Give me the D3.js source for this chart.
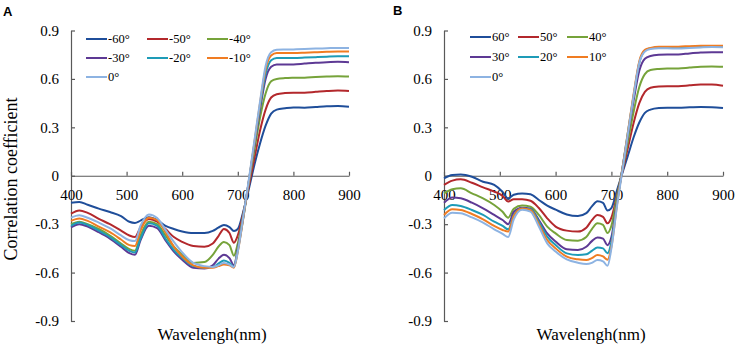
<!DOCTYPE html>
<html>
<head>
<meta charset="utf-8">
<script src="https://cdnjs.cloudflare.com/ajax/libs/d3/7.8.5/d3.min.js"></script>
<style>
body{margin:0;background:#fff;}
#wrapper svg{display:block;}
</style>
</head>
<body>
<div id="wrapper"></div>
<script>
// Data
const wavelengths = [400,415,430,450,470,490, 505,515,525,540,555,570,585,600, 620,640,655,665,675,685,693,700, 710,720,730,740,750,760,770, 785,800,820,840,860,880,900];
const xTicks = [400,500,600,700,800,900];
const yTicks = [-0.9,-0.6,-0.3,0,0.3,0.6,0.9];
const anglesA = ['-60°','-50°','-40°','-30°','-20°','-10°','0°'];
const anglesB = ['60°','50°','40°','30°','20°','10°','0°'];

// panel A
const a_m60 = [-0.167,-0.163,-0.18,-0.204,-0.225,-0.25, -0.285,-0.292,-0.278,-0.257,-0.275,-0.31,-0.33,-0.345, -0.355,-0.355,-0.342,-0.322,-0.305,-0.318,-0.343,-0.33, -0.22,-0.08,0.07,0.20,0.31,0.385,0.41, 0.418,0.423,0.422,0.426,0.43,0.432,0.428];
const a_m50 = [-0.235,-0.215,-0.23,-0.267,-0.30,-0.34, -0.37,-0.38,-0.32,-0.268,-0.285,-0.33,-0.38,-0.41, -0.435,-0.44,-0.42,-0.375,-0.33,-0.355,-0.415,-0.37, -0.23,-0.06,0.11,0.28,0.41,0.485,0.505, 0.512,0.515,0.515,0.52,0.525,0.528,0.525];
const a_m40 = [-0.30,-0.285,-0.30,-0.33,-0.37,-0.42, -0.455,-0.465,-0.37,-0.285,-0.30,-0.37,-0.44,-0.49, -0.54,-0.535,-0.49,-0.44,-0.41,-0.43,-0.495,-0.42, -0.24,-0.04,0.16,0.36,0.51,0.585,0.60, 0.605,0.607,0.608,0.612,0.615,0.617,0.615];
const a_m30 = [-0.32,-0.30,-0.315,-0.35,-0.39,-0.44, -0.48,-0.49,-0.40,-0.31,-0.325,-0.40,-0.47,-0.52, -0.57,-0.575,-0.555,-0.515,-0.49,-0.51,-0.555,-0.45, -0.25,-0.03,0.19,0.41,0.60,0.675,0.69, 0.69,0.69,0.695,0.70,0.703,0.706,0.703];
const a_m20 = [-0.31,-0.29,-0.305,-0.34,-0.38,-0.43, -0.465,-0.475,-0.39,-0.295,-0.31,-0.39,-0.46,-0.51, -0.56,-0.57,-0.565,-0.545,-0.525,-0.54,-0.565,-0.46, -0.26,-0.03,0.20,0.43,0.63,0.715,0.73, 0.73,0.73,0.732,0.735,0.738,0.74,0.74];
const a_m10 = [-0.28,-0.265,-0.28,-0.315,-0.35,-0.395, -0.43,-0.435,-0.34,-0.26,-0.275,-0.35,-0.44,-0.50, -0.555,-0.57,-0.57,-0.56,-0.55,-0.555,-0.57,-0.47, -0.26,-0.03,0.21,0.45,0.66,0.745,0.76, 0.76,0.76,0.762,0.765,0.768,0.77,0.77];
const a_0 = [-0.26,-0.245,-0.26,-0.29,-0.325,-0.37, -0.40,-0.405,-0.31,-0.24,-0.262,-0.335,-0.41,-0.475, -0.54,-0.56,-0.565,-0.555,-0.54,-0.55,-0.565,-0.47, -0.25,-0.02,0.22,0.46,0.68,0.765,0.78, 0.782,0.783,0.785,0.788,0.79,0.792,0.792];

// panel B
const b_60 = [-0.016,0.005,0.008,-0.006,-0.037,-0.057, -0.10,-0.14,-0.118,-0.11,-0.115,-0.15,-0.185,-0.21, -0.24,-0.25,-0.232,-0.19,-0.158,-0.168,-0.215,-0.20, -0.09,0.02,0.13,0.24,0.33,0.39,0.41, 0.42,0.422,0.422,0.424,0.426,0.425,0.42];
const b_50 = [-0.057,-0.03,-0.022,-0.043,-0.072,-0.098, -0.125,-0.16,-0.145,-0.145,-0.155,-0.20,-0.264,-0.315, -0.34,-0.346,-0.322,-0.275,-0.243,-0.255,-0.295,-0.26, -0.12,0.03,0.18,0.33,0.45,0.52,0.545, 0.553,0.555,0.555,0.56,0.565,0.565,0.558];
const b_40 = [-0.109,-0.084,-0.078,-0.109,-0.14,-0.181, -0.223,-0.26,-0.205,-0.185,-0.192,-0.243,-0.315,-0.357, -0.398,-0.402,-0.38,-0.33,-0.295,-0.305,-0.355,-0.31, -0.13,0.04,0.22,0.40,0.55,0.63,0.655, 0.662,0.665,0.665,0.67,0.675,0.677,0.675];
const b_30 = [-0.167,-0.134,-0.14,-0.167,-0.202,-0.243, -0.274,-0.30,-0.225,-0.198,-0.205,-0.274,-0.357,-0.408, -0.456,-0.46,-0.44,-0.405,-0.382,-0.39,-0.43,-0.38, -0.16,0.05,0.26,0.47,0.65,0.725,0.742, 0.75,0.752,0.752,0.758,0.763,0.766,0.765];
const b_20 = [-0.212,-0.181,-0.187,-0.212,-0.243,-0.285, -0.311,-0.332,-0.245,-0.203,-0.208,-0.285,-0.377,-0.429, -0.481,-0.491,-0.487,-0.465,-0.444,-0.45,-0.48,-0.41, -0.17,0.05,0.28,0.50,0.70,0.775,0.79, 0.795,0.795,0.795,0.798,0.80,0.80,0.80];
const b_10 = [-0.243,-0.208,-0.212,-0.237,-0.27,-0.311, -0.336,-0.346,-0.25,-0.203,-0.212,-0.30,-0.398,-0.45, -0.501,-0.518,-0.522,-0.51,-0.491,-0.5,-0.52,-0.44, -0.18,0.05,0.28,0.51,0.71,0.78,0.792, 0.80,0.80,0.80,0.803,0.805,0.806,0.805];
const b_0 = [-0.264,-0.229,-0.233,-0.258,-0.29,-0.332, -0.36,-0.38,-0.27,-0.21,-0.222,-0.315,-0.419,-0.47, -0.518,-0.539,-0.547,-0.54,-0.522,-0.53,-0.558,-0.45, -0.19,0.04,0.27,0.50,0.70,0.77,0.785, 0.79,0.79,0.788,0.792,0.795,0.797,0.796];

// Styles
const colors = ['#1f4e9a','#b3282c','#76a33a','#5d3994','#1e9bb7','#f07c22','#8db3e2'];
const serif = "'Liberation Serif','Times New Roman',serif";

// Dimension
const dimension = {width:737, height:347, top:30.5, bottom:321};
const panels = [
  {name:'A', series:[a_m60,a_m50,a_m40,a_m30,a_m20,a_m10,a_0], labels:anglesA,
   left:71, right:349, nameX:3, nameY:16, titleX:212,
   legendX:[86,147,207], legendY:[39,58,77], yTitle:true},
  {name:'B', series:[b_60,b_50,b_40,b_30,b_20,b_10,b_0], labels:anglesB,
   left:444, right:723, nameX:393, nameY:15, titleX:591,
   legendX:[470,518,567], legendY:[37,57,77], yTitle:false}
];

// Canvas
const wrapper = d3.select('#wrapper').append('svg')
  .attr('width',dimension.width).attr('height',dimension.height);

const drawPanel = (p) => {
  const xScale = d3.scaleLinear().domain([400,900]).range([p.left,p.right]);
  const yScale = d3.scaleLinear().domain([-0.9,0.9]).range([dimension.bottom,dimension.top]);
  const g = wrapper.append('g');

  const yAxis = g.append('g').attr('transform',`translate(${p.left},0)`)
    .call(d3.axisLeft(yScale).tickValues(yTicks).tickSize(-4).tickSizeOuter(0).tickPadding(12)
      .tickFormat(d => d === 0 ? '0' : d.toFixed(1)));
  const xAxis = g.append('g').attr('transform',`translate(0,${yScale(0)})`)
    .call(d3.axisBottom(xScale).tickValues(xTicks).tickSize(-4).tickSizeOuter(0).tickPadding(14));

  [yAxis, xAxis].forEach(ax => {
    ax.selectAll('.domain, .tick line').attr('stroke','#595959').attr('stroke-width',1.2);
    ax.selectAll('text').style('font-family',serif).style('font-size','15px').attr('fill','#000');
  });

  const lineGen = d3.line()
    .x((d,i) => xScale(wavelengths[i]))
    .y(d => yScale(d))
    .curve(d3.curveMonotoneX);

  g.append('g').selectAll('path').data(p.series).enter().append('path')
    .attr('d', d => lineGen(d))
    .attr('fill','none')
    .attr('stroke',(d,i) => colors[i])
    .attr('stroke-width',2);

  // legend
  const items = g.append('g').selectAll('g').data(p.labels).enter().append('g')
    .attr('transform',(d,i) => `translate(${p.legendX[i % 3]},${p.legendY[Math.floor(i / 3)]})`);
  items.append('line').attr('x1',0).attr('x2',21).attr('y1',0).attr('y2',0)
    .attr('stroke',(d,i) => colors[i]).attr('stroke-width',2);
  items.append('text').text(d => d).attr('x',22).attr('dy','0.35em')
    .style('font-family',serif).style('font-size','12.5px').attr('fill','#000');

  // titles
  g.append('text').text(p.name).attr('x',p.nameX).attr('y',p.nameY)
    .style('font-family',"'Liberation Sans',Arial,sans-serif").style('font-weight','bold').style('font-size','13px');
  g.append('text').text('Wavelengh(nm)').attr('x',p.titleX).attr('y',340)
    .attr('text-anchor','middle').style('font-family',serif).style('font-size','17px');
  if (p.yTitle) {
    g.append('text').text('Correlation coefficient')
      .attr('transform','translate(17,179) rotate(-90)')
      .attr('text-anchor','middle').style('font-family',serif).style('font-size','18px');
  }
};

panels.forEach(drawPanel);
</script>
</body>
</html>
